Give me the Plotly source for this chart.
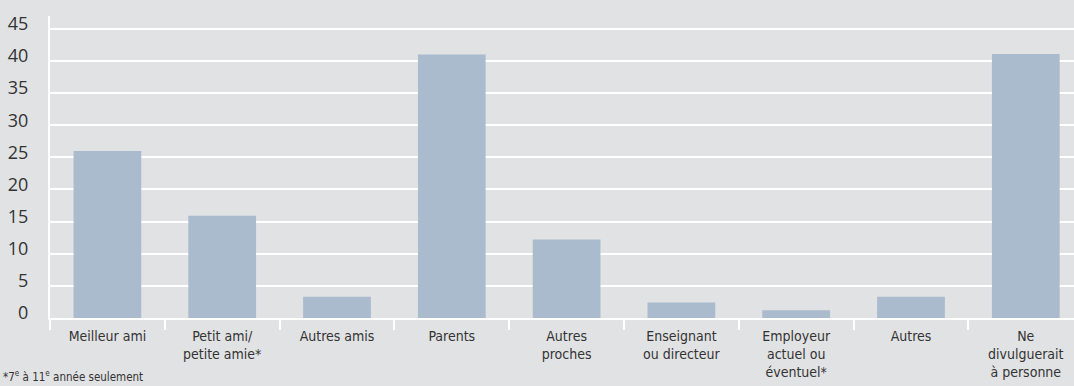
import plotly.graph_objects as go

categories = [
    "Meilleur ami",
    "Petit ami/<br>petite amie*",
    "Autres amis",
    "Parents",
    "Autres<br>proches",
    "Enseignant<br>ou directeur",
    "Employeur<br>actuel ou<br>éventuel*",
    "Autres",
    "Ne<br>divulguerait<br>à personne",
]
values = [26.0, 15.9, 3.3, 41.0, 12.2, 2.4, 1.2, 3.3, 41.1]
y_ticks = [0, 5, 10, 15, 20, 25, 30, 35, 40, 45]
footnote = "*7<sup>e</sup> à 11<sup>e</sup> année seulement"

BG = "#e1e2e4"
BAR = "#a9bbcd"
TXT = "#333333"
NARROW = "DejaVu Sans Condensed, Roboto, sans-serif"

fig = go.Figure(
    go.Bar(x=categories, y=values, marker_color=BAR, marker_line_width=0)
)

fig.update_layout(
    width=1074,
    height=386,
    paper_bgcolor=BG,
    plot_bgcolor=BG,
    margin=dict(l=50, r=0, t=16, b=68),
    bargap=0.41,
    showlegend=False,
    font=dict(family=NARROW, color=TXT),
)

fig.update_xaxes(
    type="category",
    range=[-0.5, 8.42],
    showline=True,
    linecolor="white",
    linewidth=2,
    ticks="outside",
    tickson="boundaries",
    ticklen=10,
    tickwidth=2,
    tickcolor="white",
    showgrid=False,
    ticklabelstandoff=4,
    tickfont=dict(size=14, family=NARROW, color=TXT),
)

fig.update_yaxes(
    range=[0, 47],
    tickvals=y_ticks,
    showline=True,
    linecolor="white",
    linewidth=2,
    showgrid=True,
    gridcolor="white",
    gridwidth=2,
    zeroline=False,
    ticks="",
    ticklabelstandoff=16,
    ticklabelshift=-5,
    tickfont=dict(size=18, family="Open Sans, sans-serif", color=TXT),
)

fig.add_annotation(
    text=footnote,
    xref="paper", yref="paper",
    x=-50 / 1024, y=-68 / 302,
    xanchor="left", yanchor="bottom",
    xshift=1,
    showarrow=False,
    font=dict(size=11.5, family=NARROW, color=TXT),
)

fig.write_html("out.html")
